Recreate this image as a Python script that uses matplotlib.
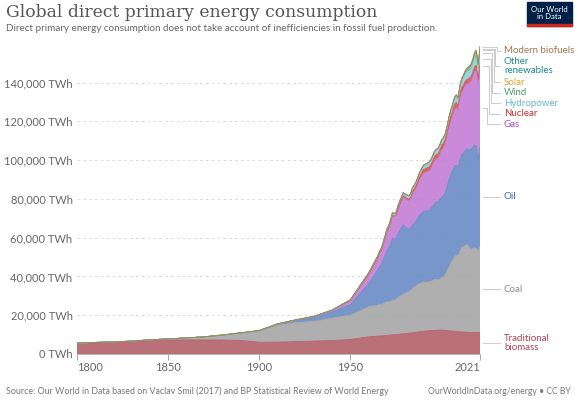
import numpy as np
import matplotlib
matplotlib.use("Agg")
import matplotlib.pyplot as plt
from matplotlib.transforms import blended_transform_factory

plt.rcParams['font.family'] = ['Lato', 'DejaVu Sans']

# years: decades from Smil up to 1960, then yearly BP data
years = list(range(1800, 1961, 10)) + list(range(1965, 2022))

biomass = [5556, 5833, 6111, 6389, 6944, 7222, 7222, 7222, 7222, 6944, 6111, 6111, 6389, 6667, 6944, 7500, 8889,
           9170, 9260, 9350, 9440, 9520,
           9610, 9700, 9790, 9880, 9970, 10060, 10140, 10230, 10320, 10410,
           10500, 10620, 10740, 10860, 10980, 11110, 11230, 11350, 11470, 11590,
           11720, 11800, 11880, 11960, 12040, 12110, 12170, 12220, 12280, 12330,
           12390, 12300, 12200, 12110, 12000, 11900, 11810, 11720, 11630, 11540,
           11450, 11390, 11330, 11270, 11220, 11170, 11110, 11110, 11110, 11110,
           11110, 11110]
coal = [97, 128, 153, 264, 356, 569, 1061, 1642, 2542, 3856, 5728, 8656, 9833, 10125, 11586, 12603, 15442,
        16140, 16400, 16100, 16500, 17000,
        17300, 17200, 17400, 17900, 17900, 18200, 18900, 19400, 19700, 20500,
        20900, 21100, 21400, 22000, 22900, 23600, 23900, 24500, 24900, 25200,
        25500, 25300, 25200, 25300, 25400, 25900, 26200, 26300, 26100, 26300,
        27200, 27600, 28600, 30900, 32900, 35000, 36800, 38600, 39300, 39000,
        41400, 43700, 44000, 45000, 45000, 43900, 42900, 43100, 43700, 43300,
        41700, 44500]
oil = [0, 0, 0, 0, 0, 0, 0, 6, 33, 89, 181, 569, 1097, 1972, 3088, 5444, 12000,
       18100, 19500, 20800, 22500, 24300,
       26500, 27800, 29700, 32100, 31400, 31200, 33000, 34100, 35300, 35700,
       34200, 33100, 32200, 32100, 32700, 32700, 33600, 34300, 35400, 35900,
       36500, 36500, 36900, 36800, 37500, 38100, 39000, 39900, 40100, 41000,
       41600, 41900, 42400, 43300, 45000, 45600, 46100, 46700, 46400, 45800,
       47300, 47800, 48400, 49000, 49500, 50500, 51400, 52300, 52900, 53100,
       48000, 51200]
gas = [0, 0, 0, 0, 0, 0, 0, 0, 0, 33, 64, 161, 233, 553, 869, 2092, 4800,
       6300, 6800, 7400, 8100, 8900,
       9700, 10300, 10800, 11400, 11600, 11700, 12300, 12900, 13500, 14300,
       14500, 14600, 14600, 14800, 15900, 16300, 16500, 17300, 18000, 18800,
       19400, 19800, 19900, 20200, 20300, 21000, 22000, 22000, 22300, 23000,
       24000, 24300, 25000, 25700, 26500, 27300, 27900, 28900, 29700, 29100,
       31200, 31900, 32700, 33100, 33400, 34100, 35000, 35900, 37800, 38600,
       38200, 40400]
nuclear = [0] * 16 + [3,
           26, 35, 41, 51, 60,
           79, 110, 150, 200, 260, 370, 410, 520, 600, 640,
           700, 840, 920, 1060, 1290, 1490, 1600, 1730, 1880, 1930,
           2000, 2100, 2120, 2200, 2260, 2330, 2420, 2400, 2440, 2530,
           2580, 2650, 2700, 2640, 2770, 2770, 2810, 2750, 2740, 2700,
           2770, 2650, 2470, 2490, 2540, 2570, 2610, 2640, 2700, 2790,
           2700, 2800]
hydro = [0] * 10 + [14, 33, 64, 128, 192, 333, 689,
         920, 980, 1000, 1040, 1100,
         1150, 1200, 1250, 1280, 1390, 1420, 1440, 1470, 1570, 1640,
         1690, 1720, 1760, 1830, 1890, 1930, 1960, 1990, 2050, 2070,
         2150, 2210, 2220, 2340, 2370, 2480, 2510, 2570, 2590, 2610,
         2660, 2600, 2640, 2640, 2800, 2910, 3010, 3060, 3200, 3240,
         3430, 3500, 3660, 3780, 3890, 3890, 4030, 4070, 4190, 4230,
         4350, 4270]
wind = [0] * 17 + [0] * 20 + [1, 1, 1, 2, 3,
        4, 4, 5, 6, 7, 8, 10, 12, 16, 21,
        31, 38, 52, 63, 85, 104, 132, 171, 220, 277,
        342, 437, 523, 646, 712, 831, 962, 1140, 1270, 1420,
        1590, 1862]
solar = [0] * 17 + [0] * 25 + [
         1, 1, 1, 1, 1, 1, 1, 1, 1, 1,
         1, 2, 2, 3, 3, 4, 6, 8, 12, 20,
         32, 63, 97, 135, 190, 256, 329, 444, 573, 702,
         856, 1033]
other = [0] * 16 + [6,
         12, 13, 14, 15, 17,
         19, 21, 23, 25, 27, 29, 31, 33, 36, 39,
         42, 48, 54, 61, 70, 78, 86, 95, 104, 112,
         121, 127, 132, 137, 142, 149, 155, 162, 170, 176,
         184, 186, 197, 210, 222, 236, 252, 270, 292, 313,
         344, 370, 402, 440, 476, 508, 535, 570, 608, 640,
         700, 762]
biofuels = [0] * 17 + [0] * 25 + [
            70, 72, 74, 76, 78, 80, 82, 87, 89, 86,
            100, 107, 128, 153, 173, 205, 260, 330, 430, 490,
            560, 590, 590, 640, 700, 730, 750, 800, 880, 940,
            880, 960]

label_text = ["Traditional\nbiomass", "Coal", "Oil", "Gas", "Nuclear", "Hydropower",
              "Wind", "Solar", "Other\nrenewables", "Modern biofuels"]
fill_colors = ["#b3606a", "#a6a6a6", "#6a8bc6", "#c47fd5", "#d9534f", "#8ccfe0",
               "#6fbb8a", "#e8c25a", "#3aa3a0", "#ad8559"]
text_colors = ["#b43f55", "#8a8a8a", "#3d63ac", "#ad4bc0", "#c92e2e", "#62b8d0",
               "#49a566", "#dca22a", "#1e8a8a", "#a2744a"]
series = [biomass, coal, oil, gas, nuclear, hydro, wind, solar, other, biofuels]

W, H = 578, 404
fig = plt.figure(figsize=(W / 100, H / 100), dpi=100)
ax = fig.add_axes([76.7 / W, 1 - 354 / H, (480 - 76.7) / W, 308 / H])

vals = np.array(series, dtype=float)
ax.stackplot(years, vals, colors=fill_colors, alpha=0.9, linewidth=0)
cum = np.cumsum(vals, axis=0)
for i in range(len(series)):
    ax.plot(years, cum[i], color=fill_colors[i], lw=0.6)

ax.set_xlim(1800, 2021)
ax.set_ylim(0, cum[-1].max())
yt = list(range(0, 140001, 20000))
ax.set_yticks(yt)
ax.set_yticklabels([f"{v:,} TWh" for v in yt], fontsize=8, color="#666666")
ax.set_xticks([1800, 1850, 1900, 1950, 2021])
ax.set_xticklabels(["1800", "1850", "1900", "1950", "2021"], fontsize=8, color="#666666")
xl = ax.get_xticklabels()
xl[0].set_ha("left")
xl[-1].set_ha("right")
ax.tick_params(axis="y", length=0, pad=3)
ax.tick_params(axis="x", length=4, color="#aaaaaa", pad=2)
ax.grid(axis="y", color="#dddddd", ls=(0, (3, 3)), lw=0.7)
ax.set_axisbelow(True)
for s in ["top", "right", "left"]:
    ax.spines[s].set_visible(False)
ax.spines["bottom"].set_color("#aaaaaa")
ax.spines["bottom"].set_linewidth(0.6)

# right hand labels with elbow connectors
fig.canvas.draw()
end = cum[:, -1]
start = np.concatenate([[0], end[:-1]])
mids = (start + end) / 2
line_h = 10.5
to_pix = ax.transData
top_pix = to_pix.transform((2021, cum[-1].max()))[1]
bt = blended_transform_factory(ax.transAxes, ax.transData)
placed = {}
prev = None
for i in range(len(series) - 1, -1, -1):
    n = label_text[i].count("\n") + 1
    h = n * line_h
    want = to_pix.transform((2021, mids[i]))[1]
    lim = top_pix - 4.7 if prev is None else prev - h / 2
    y = min(want, lim)
    prev = y - h / 2
    placed[i] = (want, y)

inv = ax.transData.inverted()
ax_w = (480 - 76.7)
k = 0
for i in range(len(series) - 1, -1, -1):
    want, y = placed[i]
    yd = inv.transform((0, y))[1]
    wd = mids[i]
    x0 = 1 + 3 / ax_w
    x2 = 1 + 20 / ax_w
    if abs(want - y) > 1:
        xk = 1 + (17 - k * 1.6) / ax_w
        k += 1
        xs = [x0, xk, xk, x2]
        ys = [wd, wd, yd, yd]
    else:
        xs = [x0, x2]
        ys = [wd, wd]
    ax.plot(xs, ys, transform=bt, color="#cccccc", lw=0.7, clip_on=False)
    ax.text(1 + 24 / ax_w, yd, label_text[i], transform=bt, fontsize=7,
            color=text_colors[i], va="center", ha="left", linespacing=1.0)

fig.text(6 / W, 1 - 12.5 / H, "Global direct primary energy consumption",
         family="DejaVu Serif", fontsize=12.3, color="#555555", va="center")
fig.text(6 / W, 1 - 28.5 / H,
         "Direct primary energy consumption does not take account of inefficiencies in fossil fuel production.",
         fontsize=7.1, color="#666666", va="center")
fig.text(6 / W, 1 - 391 / H,
         "Source: Our World in Data based on Vaclav Smil (2017) and BP Statistical Review of World Energy",
         fontsize=6.4, color="#777777", va="center")
fig.text(571 / W, 1 - 391 / H, "OurWorldInData.org/energy \u2022 CC BY",
         fontsize=6.2, color="#777777", va="center", ha="right")

# logo
fig.patches.append(plt.Rectangle((527 / W, 1 - 26 / H), 45 / W, 24 / H,
                                 transform=fig.transFigure, color="#002147"))
fig.patches.append(plt.Rectangle((527 / W, 1 - 26 / H), 45 / W, 2 / H,
                                 transform=fig.transFigure, color="#ce261e"))
fig.text(549.5 / W, 1 - 13 / H, "Our World\nin Data", fontsize=5.6, color="white",
         ha="center", va="center", linespacing=1.0)

plt.savefig("out.png", dpi=100)
